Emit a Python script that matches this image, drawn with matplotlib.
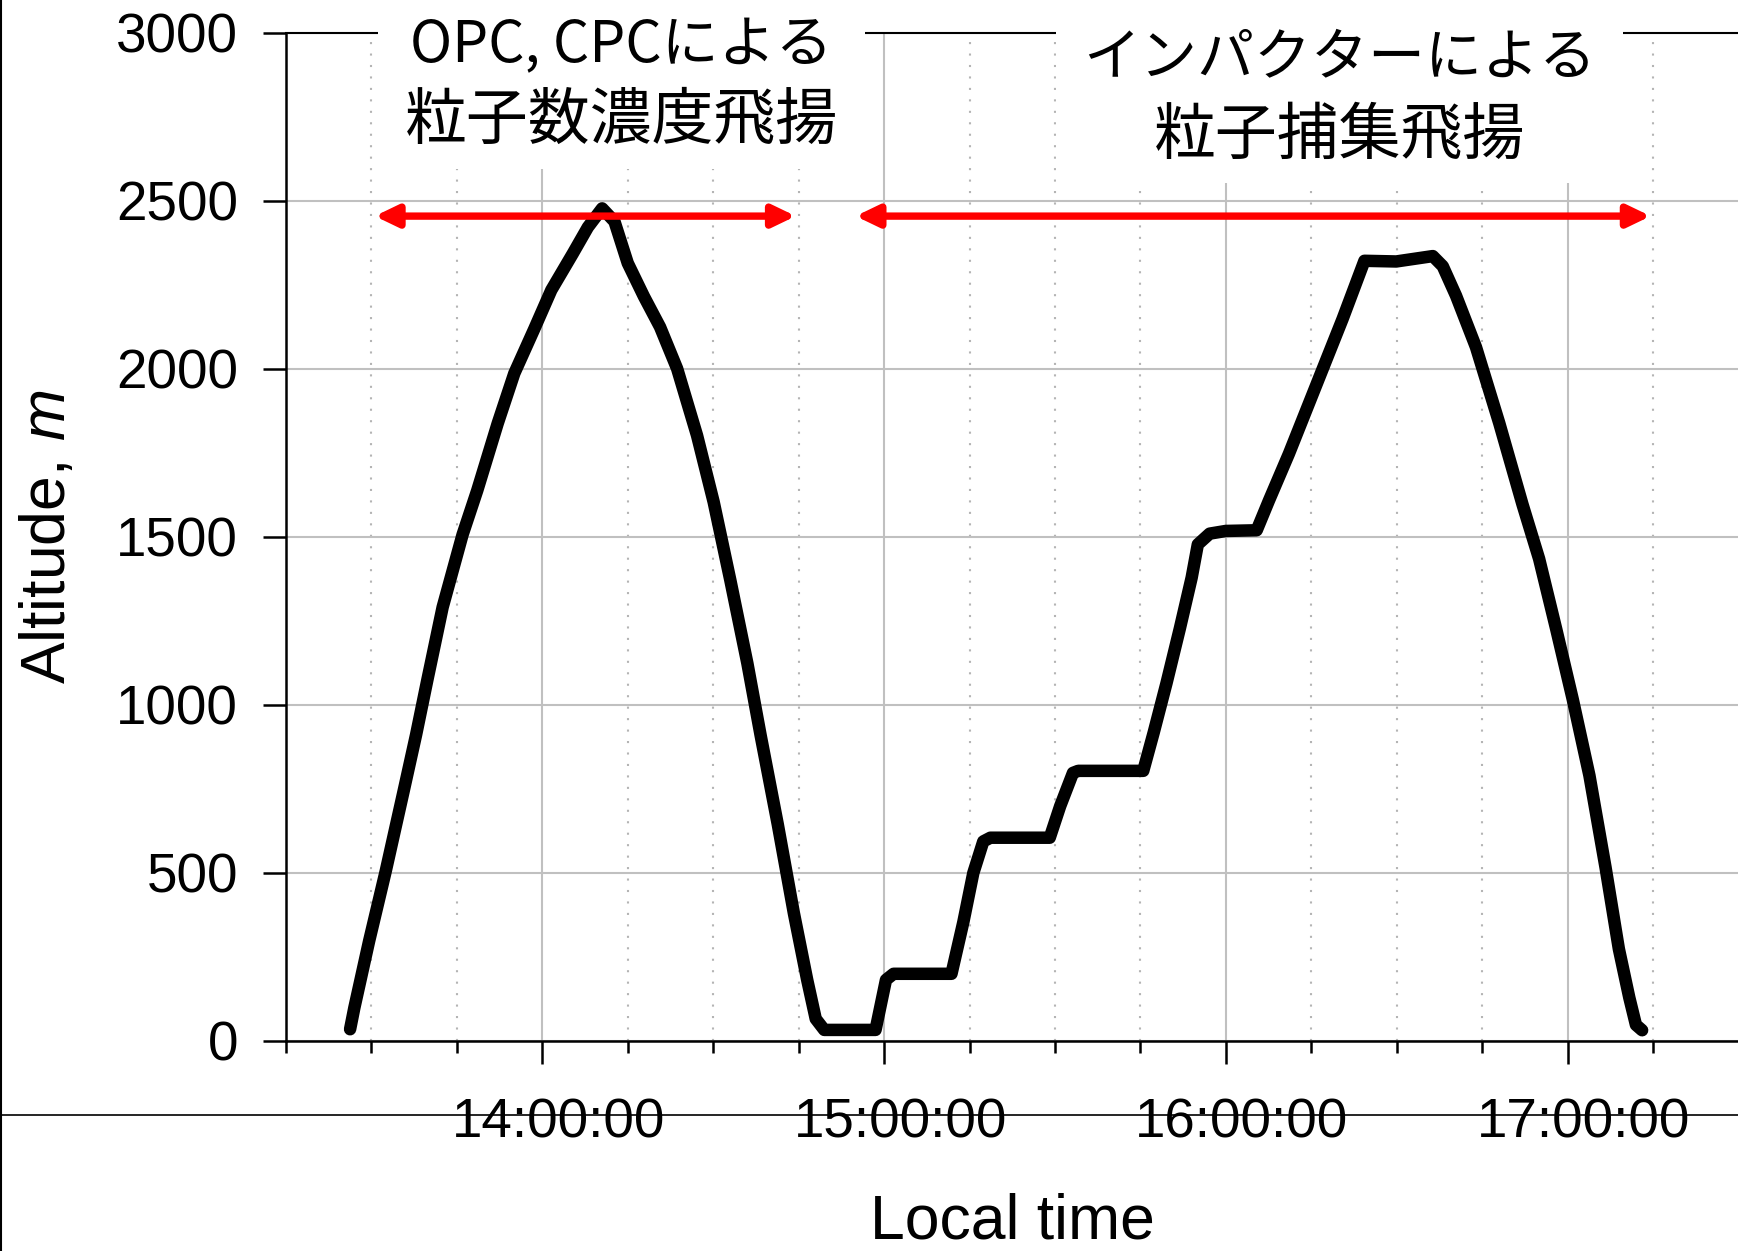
import matplotlib
matplotlib.use("Agg")
import matplotlib.pyplot as plt
import matplotlib.dates as mdates
from matplotlib.lines import Line2D
from matplotlib.patches import Rectangle
from matplotlib.transforms import Bbox, ScaledTranslation
import pandas as pd

# flight track: local time and altitude (m)
times = ["13:26:15", "13:27:00", "13:29:36", "13:32:30", "13:35:40", "13:37:50",
         "13:39:50", "13:42:30", "13:46:00", "13:48:35", "13:52:10", "13:55:05",
         "13:58:35", "14:01:35", "14:05:20", "14:08:00", "14:10:30", "14:12:40",
         "14:15:00", "14:17:50", "14:20:40", "14:23:40", "14:27:10", "14:30:05",
         "14:33:00", "14:36:00", "14:38:20", "14:41:20", "14:44:10", "14:46:30",
         "14:48:00", "14:49:30", "14:58:30", "15:00:20", "15:01:40", "15:11:50",
         "15:13:55", "15:15:40", "15:17:25", "15:18:40", "15:29:05", "15:30:55",
         "15:33:10", "15:34:05", "15:45:30", "15:47:20", "15:49:35", "15:51:55",
         "15:54:00", "15:55:05", "15:57:10", "16:00:00", "16:05:25", "16:07:35",
         "16:11:05", "16:17:00", "16:20:30", "16:24:20", "16:29:55", "16:36:20",
         "16:38:05", "16:40:25", "16:43:55", "16:48:00", "16:52:05", "16:55:00",
         "16:58:00", "17:00:55", "17:03:50", "17:06:40", "17:09:00", "17:10:50",
         "17:12:00", "17:13:05"]
altitude = [35, 99, 298, 505, 745, 911,
            1076, 1291, 1507, 1639, 1838, 1987,
            2119, 2235, 2343, 2422, 2478, 2439,
            2315, 2216, 2125, 2001, 1802, 1604,
            1372, 1124, 909, 645, 380, 182,
            66, 33, 33, 182, 200, 200,
            354, 500, 594, 605, 605, 699,
            798, 804, 804, 918, 1065, 1227,
            1379, 1478, 1510, 1518, 1520, 1609,
            1748, 2000, 2149, 2322, 2320, 2336,
            2306, 2218, 2065, 1839, 1597, 1435,
            1226, 1016, 790, 516, 274, 129,
            48, 32]

# measurement periods (arrows) and their captions
periods = [("13:30:35", "14:44:30"), ("14:55:00", "17:14:35")]
period_alt = 2455
caption_head = ["OPC, CPCによる", "インパクターによる"]
caption_body = ["粒子数濃度飛揚", "粒子捕集飛揚"]
caption_time = ["14:13:50", "16:19:55"]
caption_head_alt = [2961, 2925]
caption_body_alt = [2738, 2696]

day = "2000-01-01 "


def tnum(s):
    return mdates.date2num(pd.Timestamp(day + s))


x = [tnum(s) for s in times]

plt.rcParams["font.family"] = ["Liberation Sans", "Noto Sans CJK JP"]
plt.rcParams["mathtext.fontset"] = "custom"
plt.rcParams["mathtext.rm"] = "Liberation Sans"
plt.rcParams["mathtext.it"] = "Liberation Sans:italic"
jp = ["Noto Sans CJK JP"]

fig = plt.figure(figsize=(17.38, 12.51), dpi=100)
ax = fig.add_axes([0.16456, 0.16787, 0.83544, 0.80576])

ax.plot(x, altitude, color="black", lw=9, solid_joinstyle="round",
        solid_capstyle="round", zorder=4)

for (a, b) in periods:
    ax.annotate("", xy=(tnum(b), period_alt), xytext=(tnum(a), period_alt),
                arrowprops=dict(arrowstyle="<|-|>,head_length=1.35,head_width=0.65",
                                color="red", lw=5.3, mutation_scale=10,
                                shrinkA=0, shrinkB=0),
                zorder=4)

captions = []
for i in range(len(caption_time)):
    xc = tnum(caption_time[i])
    t1 = ax.text(xc, caption_head_alt[i], caption_head[i], ha="center", va="center",
                 fontsize=41, family=jp, zorder=6, clip_on=False)
    t2 = ax.text(xc, caption_body_alt[i], caption_body[i], ha="center", va="center",
                 fontsize=44.6, family=jp, zorder=6, clip_on=False)
    captions.append((t1, t2))

ax.set_xlim(tnum("13:15:00"), tnum("17:29:55"))
ax.set_ylim(0, 3000)
ax.set_yticks(range(0, 3001, 500))
ax.xaxis.set_major_locator(mdates.HourLocator())
ax.xaxis.set_minor_locator(mdates.MinuteLocator(byminute=[15, 30, 45]))
ax.xaxis.set_major_formatter(mdates.DateFormatter("%H:%M:%S"))

ax.grid(which="major", color="#c0c0c0", lw=1.5)
ax.grid(which="minor", axis="x", color="#b4b4b4", lw=1.5, linestyle=(0, (1, 4.5)))
ax.set_axisbelow(True)

ax.spines["right"].set_visible(False)
for side in ["left", "bottom"]:
    ax.spines[side].set_linewidth(1.8)
ax.spines["top"].set_linewidth(1.5)

ax.tick_params(which="major", direction="out", length=16.5, width=1.8,
               labelsize=39.5, colors="black")
ax.tick_params(axis="x", which="major", pad=24)
ax.tick_params(axis="y", which="major", pad=18)
ax.tick_params(axis="x", which="minor", direction="out", length=8.6, width=1.8)

ax.set_xlabel("Local time", fontsize=45)
ax.xaxis.set_label_coords(0.5, -0.1505)
ax.set_ylabel("Altitude, $m$", fontsize=45)
ax.yaxis.set_label_coords(-0.1433, 0.5)

# nudge the time labels a little to the right of their ticks
shift = ScaledTranslation(16 / 100, 0, fig.dpi_scale_trans)
for lab in ax.get_xticklabels():
    lab.set_transform(lab.get_transform() + shift)

# white box behind each caption, hiding the grid and the top frame
fig.canvas.draw()
renderer = fig.canvas.get_renderer()
W, H = fig.bbox.width, fig.bbox.height
for t1, t2 in captions:
    bb = Bbox.union([t1.get_window_extent(renderer), t2.get_window_extent(renderer)])
    x0, y0 = bb.x0 - 27, bb.y0 - 16
    ax.add_patch(Rectangle((x0 / W, y0 / H), (bb.width + 54) / W, (bb.height + 60) / H,
                           transform=fig.transFigure, fc="white", ec="none",
                           zorder=5, clip_on=False))

# thin frame lines around the figure area
fig.add_artist(Line2D([0, 1], [1 - 1115 / 1251] * 2, transform=fig.transFigure,
                      color="black", lw=1.2, zorder=-1))
fig.add_artist(Line2D([0.6 / 1738] * 2, [0, 1], transform=fig.transFigure,
                      color="black", lw=1.5, zorder=-1))

fig.savefig("out.png", dpi=100)
